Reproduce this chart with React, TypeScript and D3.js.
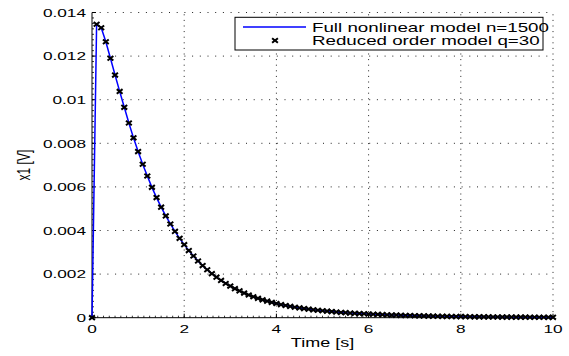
import * as d3 from 'd3';

// sampled every 0.1 s
const TIME = [
  0, 0.1, 0.2, 0.3, 0.4, 0.5, 0.6, 0.7, 0.8, 0.9,
  1, 1.1, 1.2, 1.3, 1.4, 1.5, 1.6, 1.7, 1.8, 1.9,
  2, 2.1, 2.2, 2.3, 2.4, 2.5, 2.6, 2.7, 2.8, 2.9,
  3, 3.1, 3.2, 3.3, 3.4, 3.5, 3.6, 3.7, 3.8, 3.9,
  4, 4.1, 4.2, 4.3, 4.4, 4.5, 4.6, 4.7, 4.8, 4.9,
  5, 5.1, 5.2, 5.3, 5.4, 5.5, 5.6, 5.7, 5.8, 5.9,
  6, 6.1, 6.2, 6.3, 6.4, 6.5, 6.6, 6.7, 6.8, 6.9,
  7, 7.1, 7.2, 7.3, 7.4, 7.5, 7.6, 7.7, 7.8, 7.9,
  8, 8.1, 8.2, 8.3, 8.4, 8.5, 8.6, 8.7, 8.8, 8.9,
  9, 9.1, 9.2, 9.3, 9.4, 9.5, 9.6, 9.7, 9.8, 9.9,
  10,
];

const FULL_MODEL = [
  0, 0.01346, 0.0133, 0.01266, 0.0119, 0.01113, 0.01038, 0.00965, 0.00893, 0.00825,
  0.00762, 0.00704, 0.0065, 0.00598, 0.00551, 0.00507, 0.00467, 0.0043, 0.00396, 0.00364,
  0.00335, 0.00308, 0.00283, 0.0026, 0.00239, 0.0022, 0.00202, 0.00186, 0.00171, 0.00157,
  0.00145, 0.00133, 0.00123, 0.00113, 0.00104, 0.00096, 0.00089, 0.00082, 0.00076, 0.0007,
  0.00065, 0.0006, 0.00056, 0.00052, 0.00048, 0.00045, 0.00042, 0.00039, 0.00036, 0.00034,
  0.00032, 0.0003, 0.00028, 0.00026, 0.00024, 0.00023, 0.00021, 0.0002, 0.00019, 0.00018,
  0.00017, 0.00016, 0.00015, 0.00014, 0.00013, 0.00012, 0.00012, 0.00011, 0.0001, 0.0001,
  0.00009, 0.000085, 0.00008, 0.000075, 0.00007, 0.000066, 0.000062, 0.000058, 0.000055, 0.000052,
  0.000049, 0.000046, 0.000043, 0.000041, 0.000039, 0.000037, 0.000035, 0.000033, 0.000031, 0.000029,
  0.000028, 0.000026, 0.000025, 0.000024, 0.000023, 0.000022, 0.000021, 0.00002, 0.000019, 0.000018,
  0.000017,
];

// reduced model lies on top of the full one
const REDUCED_MODEL = FULL_MODEL;

const X_TICKS = [0, 2, 4, 6, 8, 10];
const Y_TICKS = [0, 0.002, 0.004, 0.006, 0.008, 0.01, 0.012, 0.014];
const Y_TICK_LABELS = ['0', '0.002', '0.004', '0.006', '0.008', '0.01', '0.012', '0.014'];
const LEGEND = ['Full nonlinear model n=1500', 'Reduced order model q=30'];

const W = 569;
const H = 356;
const M = { left: 92, right: 16, top: 12.5, bottom: 38.3 };
const SX = 1.5; // the picture is stretched horizontally
const FONT = '"Liberation Sans", Arial, Helvetica, sans-serif';

function SText({ x, y, size, anchor, children, rotate }: any) {
  const tr = 'translate(' + x + ',' + y + ') scale(' + SX + ',1)' + (rotate ? ' rotate(' + rotate + ')' : '');
  return (
    <text transform={tr} fontSize={size} fontFamily={FONT} textAnchor={anchor || 'start'} fill="#000">
      {children}
    </text>
  );
}

function Cross({ cx, cy }: any) {
  const a = 2.9, b = 2.3;
  return (
    <path
      d={'M' + (cx - a) + ',' + (cy - b) + 'L' + (cx + a) + ',' + (cy + b) + 'M' + (cx - a) + ',' + (cy + b) + 'L' + (cx + a) + ',' + (cy - b)}
      stroke="#000"
      strokeWidth={2}
      fill="none"
    />
  );
}

export default function App() {
  const x = d3.scaleLinear().domain([0, 10]).range([M.left, W - M.right]);
  const y = d3.scaleLinear().domain([0, 0.014]).range([H - M.bottom, M.top]);
  const x0 = x(0), x1 = x(10), y0 = y(0), y1 = y(0.014);

  const line = d3.line<number>()
    .x(function (_, i) { return x(TIME[i]); })
    .y(function (d) { return y(d); });

  const xMinor = d3.range(0, 10.001, 0.125);
  const yMinor = d3.range(0, 0.01401, 0.00025);

  const lgL = 235, lgT = 17.3, lgR = 543, lgB = 50;

  return (
    <svg width={W} height={H} style={{ position: 'absolute', left: 0, top: 0, background: '#fff' }}>
      <rect x={0} y={0} width={W} height={H} fill="#fff" />

      {/* grid */}
      {X_TICKS.slice(1).map(function (t) {
        return <line key={'gx' + t} x1={x(t)} x2={x(t)} y1={y0} y2={y1} stroke="#222" strokeWidth={1} strokeDasharray="1,4.6" />;
      })}
      {Y_TICKS.slice(1).map(function (t) {
        return <line key={'gy' + t} x1={x0} x2={x1} y1={y(t)} y2={y(t)} stroke="#222" strokeWidth={1} strokeDasharray="1,6.7" />;
      })}

      {/* axes */}
      <line x1={x0} x2={x1} y1={y0} y2={y0} stroke="#000" strokeWidth={1} />
      <line x1={x0} x2={x0} y1={y0} y2={y1} stroke="#000" strokeWidth={1} />
      {xMinor.map(function (t, i) {
        return <line key={'mx' + i} x1={x(t)} x2={x(t)} y1={y0} y2={y0 - 2} stroke="#000" strokeWidth={0.8} />;
      })}
      {yMinor.map(function (t, i) {
        return <line key={'my' + i} x1={x0} x2={x0 + 2} y1={y(t)} y2={y(t)} stroke="#000" strokeWidth={0.8} />;
      })}
      {X_TICKS.map(function (t) {
        return <line key={'tx' + t} x1={x(t)} x2={x(t)} y1={y0} y2={y0 - 4} stroke="#000" strokeWidth={1} />;
      })}
      {Y_TICKS.map(function (t) {
        return <line key={'ty' + t} x1={x0} x2={x0 + 4} y1={y(t)} y2={y(t)} stroke="#000" strokeWidth={1} />;
      })}

      {/* tick labels */}
      {X_TICKS.map(function (t) {
        return <SText key={'lx' + t} x={x(t)} y={y0 + 15.5} size={11.5} anchor="middle">{String(t)}</SText>;
      })}
      {Y_TICKS.map(function (t, i) {
        return <SText key={'ly' + t} x={x0 - 6} y={y(t) + 4.2} size={11.5} anchor="end">{Y_TICK_LABELS[i]}</SText>;
      })}

      <SText x={(x0 + x1) / 2} y={347} size={12} anchor="middle">Time [s]</SText>
      <SText x={30} y={(y0 + y1) / 2} size={12} anchor="middle" rotate={-90}>x1 [V]</SText>

      {/* series */}
      <path d={line(FULL_MODEL) || ''} fill="none" stroke="#0000ff" strokeWidth={1.5} />
      {REDUCED_MODEL.map(function (v, i) {
        return <Cross key={'m' + i} cx={x(TIME[i])} cy={y(v)} />;
      })}

      {/* legend */}
      <rect x={lgL} y={lgT} width={lgR - lgL} height={lgB - lgT} fill="#fff" stroke="#000" strokeWidth={1} />
      <line x1={243} x2={306} y1={27} y2={27} stroke="#0000ff" strokeWidth={1.5} />
      <Cross cx={275} cy={40.5} />
      <SText x={312} y={31.5} size={12.5}>{LEGEND[0]}</SText>
      <SText x={312} y={45} size={12.5}>{LEGEND[1]}</SText>
    </svg>
  );
}
